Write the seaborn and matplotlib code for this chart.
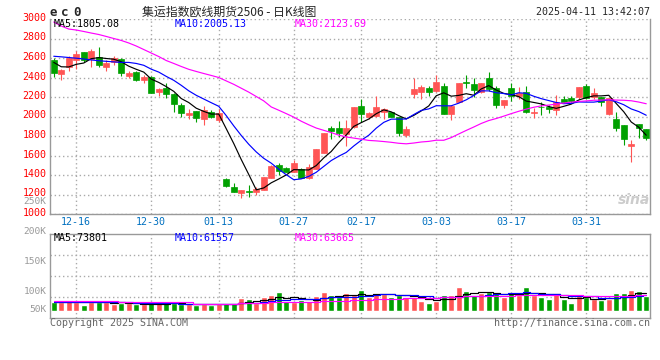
import numpy as np
import pandas as pd
import seaborn as sns
import matplotlib.pyplot as plt
import matplotlib.transforms as mtransforms

# daily bars, 2024-12-11 .. 2025-04-11
opens = [2579, 2439, 2511, 2579, 2662, 2590, 2607, 2511, 2555, 2590,
         2418, 2456, 2377, 2402, 2254, 2289, 2231, 2118, 2015, 2056,
         1977, 2049, 1964, 1356, 1280, 1212, 1236, 1226, 1246, 1366,
         1503, 1472, 1434, 1458, 1372, 1462, 1629, 1879, 1879, 1821,
         1895, 2108, 1992, 2008, 2049, 2049, 1992, 1810, 2231, 2254,
         2296, 2265, 2316, 2023, 2152, 2357, 2333, 2248, 2392, 2289,
         2118, 2289, 2210, 2254, 2033, 2101, 2101, 2067, 2179, 2193,
         2203, 2313, 2197, 2197, 2026, 1971, 1913, 1698, 1923, 1869]
highs = [2597, 2490, 2621, 2672, 2662, 2692, 2716, 2579, 2621, 2603,
         2470, 2467, 2426, 2415, 2289, 2347, 2238, 2142, 2077, 2056,
         2108, 2067, 2074, 1372, 1321, 1246, 1297, 1280, 1383, 1503,
         1526, 1485, 1554, 1469, 1513, 1667, 1828, 1906, 1954, 1964,
         2101, 2176, 2049, 2210, 2090, 2049, 1992, 1903, 2392, 2323,
         2316, 2426, 2340, 2118, 2347, 2426, 2392, 2347, 2460, 2313,
         2169, 2347, 2306, 2313, 2084, 2152, 2118, 2221, 2210, 2210,
         2306, 2333, 2289, 2197, 2193, 2049, 1913, 1759, 1923, 1869]
lows = [2408, 2377, 2470, 2484, 2559, 2511, 2511, 2470, 2528, 2415,
        2398, 2364, 2347, 2238, 2210, 2193, 2049, 1998, 1974, 1947,
        1913, 1982, 1947, 1280, 1222, 1161, 1178, 1195, 1246, 1366,
        1400, 1428, 1428, 1366, 1356, 1462, 1629, 1769, 1793, 1698,
        1879, 1941, 1971, 1998, 1971, 1992, 1800, 1787, 2187, 2179,
        2213, 2254, 2023, 1964, 2152, 2289, 2203, 2238, 2265, 2084,
        2084, 2162, 2176, 2033, 1982, 2015, 2039, 2015, 2142, 2142,
        2179, 2176, 2176, 2111, 2015, 1851, 1708, 1537, 1783, 1759]
closes = [2449, 2477, 2597, 2641, 2579, 2672, 2531, 2552, 2603, 2449,
          2446, 2371, 2408, 2244, 2279, 2231, 2128, 2039, 2039, 1988,
          2067, 1992, 2039, 1287, 1229, 1246, 1226, 1253, 1383, 1492,
          1441, 1434, 1526, 1372, 1485, 1667, 1828, 1855, 1828, 1879,
          2101, 2023, 2039, 2101, 2077, 1998, 1828, 1872, 2282, 2306,
          2254, 2351, 2023, 2108, 2347, 2340, 2272, 2347, 2279, 2118,
          2169, 2210, 2244, 2049, 2049, 2094, 2074, 2152, 2152, 2162,
          2306, 2193, 2244, 2152, 2193, 1885, 1769, 1718, 1885, 1783]
volumes = [36900, 36900, 43700, 36900, 23200, 36900, 36900, 36900, 27300, 30100,
           30100, 27300, 27300, 30100, 30100, 30100, 30100, 27300, 27300, 23200,
           27300, 23200, 27300, 30100, 30100, 50600, 46500, 32800, 54700, 64200,
           76600, 41000, 35500, 43700, 41000, 61500, 76600, 64200, 54700, 71100,
           62900, 84800, 54700, 71100, 67000, 57400, 64200, 54700, 54700, 41000,
           32800, 41000, 64200, 64200, 98400, 80700, 64200, 71100, 75200, 75200,
           57400, 71100, 64200, 98400, 64200, 57400, 47800, 71100, 47800, 32800,
           64200, 54700, 47800, 43700, 47800, 71100, 71100, 84800, 80700, 61500]

# moving averages before enough history is on screen
ma5_head = [2555, 2510, 2508, 2535]
ma10_head = [2618, 2612, 2605, 2598, 2590, 2580, 2572, 2566, 2560]
ma30_head = [2969, 2928, 2897, 2887, 2872, 2856, 2841, 2821, 2800, 2780,
             2754, 2723, 2687, 2651, 2615, 2574, 2544, 2513, 2484, 2462,
             2441, 2421, 2400, 2365, 2330, 2290, 2250, 2205, 2160]
vma5_head = [36900, 36900, 36500, 36000]
vma10_head = [35500, 35500, 35500, 35000, 35000, 34500, 34500, 34000, 34000]
vma30_head = [38000, 38000, 38000, 38000, 38000, 38000, 38000, 38000, 38000,
              34500, 34500, 34500, 34500, 34500, 34500, 34500, 34500, 34500, 34500,
              29000, 29000, 29000, 29000, 29000, 29000, 30500, 30500, 30500, 30500]

tick_labels = ['12-16', '12-30', '01-13', '01-27', '02-17', '03-03', '03-17', '03-31']
holidays = ['2025-01-01', '2025-01-28', '2025-01-29', '2025-01-30', '2025-01-31',
            '2025-02-03', '2025-02-04', '2025-04-04']

days = pd.bdate_range('2024-12-11', '2025-04-11')
days = days[~days.isin(pd.to_datetime(holidays))]

df = pd.DataFrame({'i': np.arange(len(days)), 'open': opens, 'high': highs,
                   'low': lows, 'close': closes, 'vol': volumes})
df['dir'] = np.where(df['close'] >= df['open'], 'up', 'down')


def ma(s, w, head):
    m = s.rolling(w).mean()
    m.iloc[:len(head)] = head
    return m


df['ma5'] = ma(df['close'], 5, ma5_head)
df['ma10'] = ma(df['close'], 10, ma10_head)
df['ma30'] = ma(df['close'], 30, ma30_head)
df['vma5'] = ma(df['vol'], 5, vma5_head)
df['vma10'] = ma(df['vol'], 10, vma10_head)
df['vma30'] = ma(df['vol'], 30, vma30_head)

md = days.strftime('%m-%d').tolist()
tick_idx = [md.index(t) for t in tick_labels]

RED, GREEN = '#FF5555', '#00A000'
pal = {'up': RED, 'down': GREEN}
GRID = '#AAAAAA'
MONO = ['DejaVu Sans Mono', 'DejaVu Sans']
CJK = ['Noto Sans CJK SC', 'DejaVu Sans']

sns.set_theme(style='white')
plt.rcParams['font.family'] = MONO

W, H = 660, 360
fig = plt.figure(figsize=(6.6, 3.6), dpi=100)
ax = fig.add_axes([50 / W, 146 / H, 600 / W, 195 / H])
axv = fig.add_axes([50 / W, 42 / H, 600 / W, 84 / H])


def px(x, y):
    return x / W, 1 - y / H


# candles
cols = df['dir'].map(pal)
ax.vlines(df['i'], df['low'], df['high'], colors=cols, lw=0.8, zorder=2)
ax.bar(df['i'], (df['close'] - df['open']).abs(),
       bottom=df[['open', 'close']].min(axis=1), width=0.82,
       color=cols, edgecolor=cols, lw=0.5, zorder=2)
for c, k in [('black', 'ma5'), ('#0000FF', 'ma10'), ('#FF00FF', 'ma30')]:
    sns.lineplot(x=df['i'], y=df[k], color=c, lw=0.85, ax=ax, zorder=3)

ax.set_xlim(-0.5, len(df) - 0.5)
ax.set_ylim(1000, 3000)
ax.set_yticks(range(1000, 3001, 200))
ax.set_xticks(tick_idx)
ax.set_xticklabels(tick_labels)
ax.set_xlabel('')
ax.set_ylabel('')
ax.grid(True, color=GRID, linestyle=(0, (1, 2)), lw=1)
ax.tick_params(axis='y', length=0, pad=2.4, labelsize=7.2, labelcolor='#FF0000')
ax.tick_params(axis='x', length=0, pad=2.5, labelsize=7.2, labelcolor='#0070C0')
up = mtransforms.ScaledTranslation(0, 2 / 100, fig.dpi_scale_trans)
for lab in ax.get_yticklabels():
    lab.set_transform(lab.get_transform() + up)
for s in ['left', 'bottom', 'right']:
    ax.spines[s].set_color('#999999')
    ax.spines[s].set_linewidth(1)
ax.spines['top'].set_visible(False)

# volume
sns.barplot(data=df, x='i', y='vol', hue='dir', palette=pal, dodge=False,
            width=0.8, saturation=1, legend=False, ax=axv, zorder=2)
for c, k in [('black', 'vma5'), ('#0000FF', 'vma10'), ('#FF00FF', 'vma30')]:
    sns.lineplot(x=df['i'], y=df[k], color=c, lw=0.85, ax=axv, zorder=3,
                 drawstyle='steps-mid')
vlo, vhi = -30000, 314500
axv.set_xlim(-0.5, len(df) - 0.5)
axv.set_ylim(vlo, vhi)
axv.set_yticks(np.linspace(vlo, vhi, 5)[1:4])
axv.set_yticklabels([])
axv.set_xticks(tick_idx)
axv.set_xticklabels([])
axv.set_xlabel('')
axv.set_ylabel('')
axv.grid(True, color=GRID, linestyle=(0, (1, 2)), lw=1)
axv.tick_params(length=0)
for s in axv.spines.values():
    s.set_color('#999999')
    s.set_linewidth(1)

# texts
for ch, x in zip('ec0', [49, 61, 73]):
    fig.text(*px(x, 12), ch, fontsize=9, fontweight='bold', va='center', ha='left')
fig.text(*px(142, 12), '集运指数欧线期货2506 - 日K线图', family=CJK,
         fontsize=8.6, va='center', ha='left')
fig.text(*px(650, 12), '2025-04-11 13:42:07', fontsize=7.2, va='center', ha='right')

fig.text(*px(54, 24), 'MA5:1805.08', fontsize=7.2, color='black', va='center')
fig.text(*px(175, 24), 'MA10:2005.13', fontsize=7.2, color='#0000FF', va='center')
fig.text(*px(295, 24), 'MA30:2123.69', fontsize=7.2, color='#FF00FF', va='center')
fig.text(*px(54, 238), 'MA5:73801', fontsize=7.2, color='black', va='center')
fig.text(*px(175, 238), 'MA10:61557', fontsize=7.2, color='#0000FF', va='center')
fig.text(*px(295, 238), 'MA30:63665', fontsize=7.2, color='#FF00FF', va='center')

for lab, y in [('250K', 202), ('200K', 231), ('150K', 261), ('100K', 291), ('50K', 310)]:
    fig.text(*px(46.5, y), lab, fontsize=6.8, color='#999999', va='center', ha='right')

fig.text(*px(50, 323.5), 'Copyright 2025 SINA.COM', fontsize=7.2, color='#666666', va='center')
fig.text(*px(650, 323.5), 'http://finance.sina.com.cn', fontsize=7.2, color='#666666',
         va='center', ha='right')
fig.text(*px(634, 200), 'sina', family=['DejaVu Sans'], fontsize=10, fontweight='bold',
         fontstyle='italic', color='#CCCCCC', va='center', ha='center')

fig.savefig('out.png', dpi=100)
